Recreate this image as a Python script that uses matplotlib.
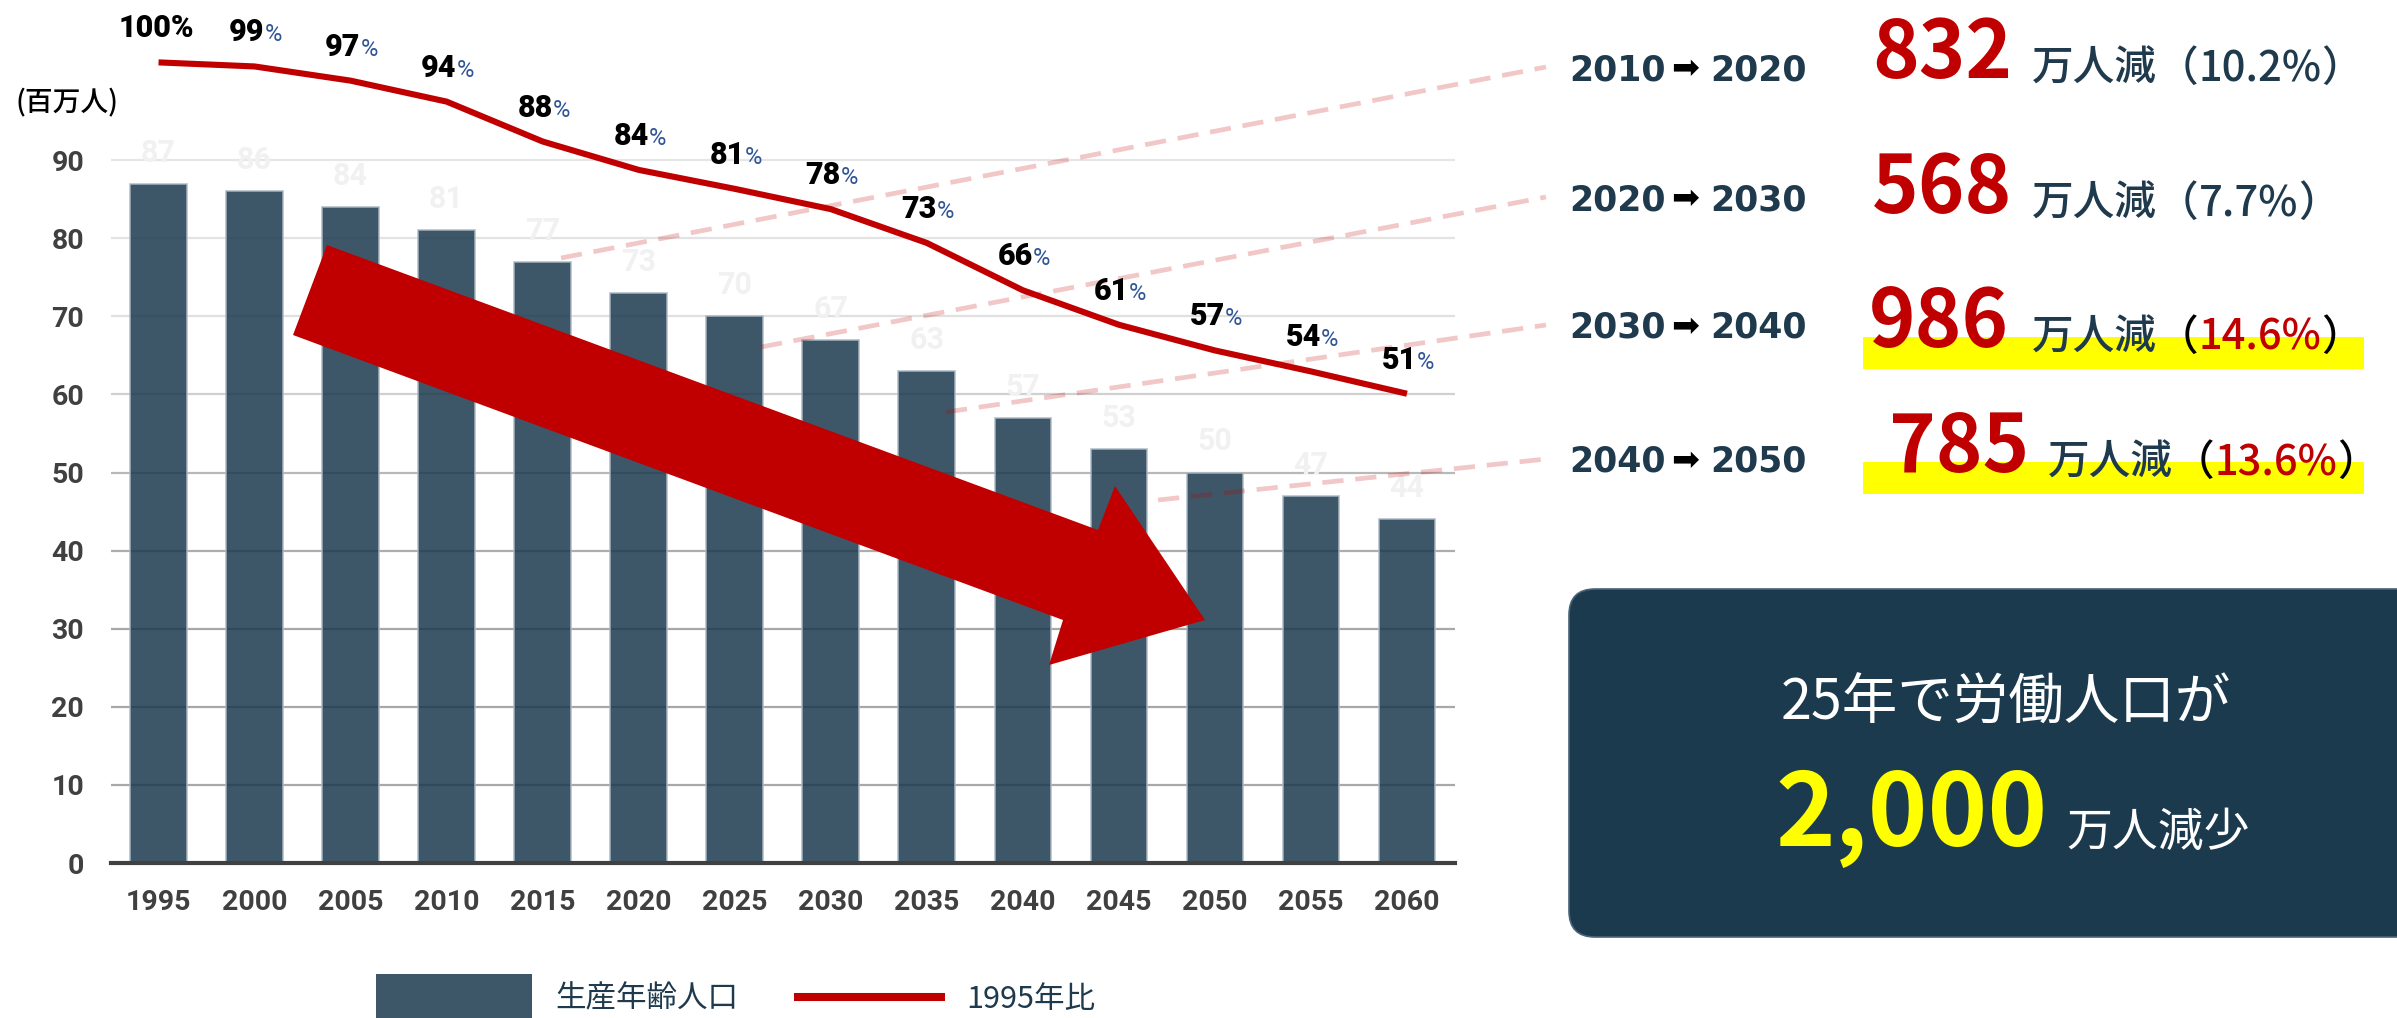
import matplotlib
matplotlib.use("Agg")
import matplotlib.pyplot as plt
from matplotlib.patches import Polygon, Rectangle, FancyBboxPatch

plt.rcParams['font.family'] = ['Noto Sans CJK JP', 'DejaVu Sans']

# data
years = [1995, 2000, 2005, 2010, 2015, 2020, 2025, 2030, 2035, 2040, 2045, 2050, 2055, 2060]
population = [87, 86, 84, 81, 77, 73, 70, 67, 63, 57, 53, 50, 47, 44]
ratio = [100, 99.4, 97.3, 94.2, 88.3, 84.1, 81.3, 78.3, 73.3, 66.3, 61.2, 57.4, 54.3, 51.0]
ratio_labels = [100, 99, 97, 94, 88, 84, 81, 78, 73, 66, 61, 57, 54, 51]
y_ticks = [0, 10, 20, 30, 40, 50, 60, 70, 80, 90]

range_from = [2010, 2020, 2030, 2040]
range_to = [2020, 2030, 2040, 2050]
decrease = [832, 568, 986, 785]
decrease_pct = [10.2, 7.7, 14.6, 13.6]
highlight = [False, False, True, True]

total_years = 25
total_decrease = "2,000"

# colours
BAR = '#1e3b4f'
RED = '#c00000'
NAVY = '#1f3a4d'
GREY = '#404040'

W, H = 2397, 1018
fig = plt.figure(figsize=(W / 100, H / 100), dpi=100)
fig.patch.set_facecolor('white')

ax = fig.add_axes([110.5 / W, 155 / H, (1455 - 110.5) / W, 781 / H])
x = list(range(len(years)))

ax.bar(x, population, width=0.59, color=BAR, alpha=0.86,
       edgecolor='#a9b8c4', linewidth=1.2, zorder=2)
for i, v in enumerate(population):
    ax.annotate(str(v), (i, v), xytext=(0, 31), textcoords='offset pixels',
                ha='center', va='center', color='#f1f1f1', fontsize=22,
                fontweight='bold', family=['Roboto', 'DejaVu Sans'])

# gridlines get darker toward the bottom
grid_cols = {10: '#a8a8a8', 20: '#a8a8a8', 30: '#a8a8a8', 40: '#adadad',
             50: '#b8b8b8', 60: '#d0d0d0', 70: '#e0e0e0', 80: '#e3e3e3', 90: '#e6e6e6'}
for t in y_ticks[1:]:
    ax.axhline(t, color=grid_cols[t], lw=1.6, zorder=1)

ax.set_xlim(-0.5, len(years) - 0.5)
ax.set_ylim(0, 100)
ax.set_yticks(y_ticks)
ax.set_xticks(x)
ax.set_xticklabels([str(y) for y in years])
for lab in ax.get_xticklabels() + ax.get_yticklabels():
    lab.set_fontfamily(['Roboto', 'DejaVu Sans'])
    lab.set_fontweight('bold')
    lab.set_fontsize(20.5)
    lab.set_color(GREY)
ax.tick_params(axis='both', length=0)
ax.tick_params(axis='y', pad=19)
ax.tick_params(axis='x', pad=19)
for s in ['top', 'right', 'left']:
    ax.spines[s].set_visible(False)
ax.spines['bottom'].set_color(GREY)
ax.spines['bottom'].set_linewidth(3)
ax.spines['bottom'].set_zorder(3)

# 1995 ratio line on a twin axis
ax2 = ax.twinx()
ax2.set_zorder(1)
ax2.set_ylim(-18.4, 97.1)
ax2.axis('off')
ax2.plot(x, ratio, color=RED, lw=4.4, clip_on=False, solid_capstyle='butt')
for i, (v, lbl) in enumerate(zip(ratio, ratio_labels)):
    if i == 0:
        ax2.annotate(f"{lbl}%", (i, v), xytext=(-2, 25), textcoords='offset pixels',
                     ha='center', va='baseline', fontsize=22, fontweight='heavy',
                     family=['Roboto', 'DejaVu Sans'], annotation_clip=False)
    else:
        ax2.annotate(str(lbl), (i, v), xytext=(10, 25), textcoords='offset pixels',
                     ha='right', va='baseline', fontsize=22, fontweight='heavy',
                     family=['Roboto', 'DejaVu Sans'], annotation_clip=False)
        ax2.annotate('%', (i, v), xytext=(10, 25), textcoords='offset pixels',
                     ha='left', va='baseline', fontsize=17, color='#2f5597',
                     family=['Roboto', 'DejaVu Sans'], annotation_clip=False)

# overlay in pixel coordinates for annotations
ov = fig.add_axes([0, 0, 1, 1], zorder=0.5)
ov.set_xlim(0, W)
ov.set_ylim(H, 0)
ov.axis('off')
ov.patch.set_visible(False)

ov.text(16, 103, '(百万人)', ha='left', va='center', fontsize=20,
        fontweight='medium', color='black')

# big downward arrow
arrow = Polygon([(327, 245), (1098, 530), (1115, 486), (1205, 620),
                 (1049, 665), (1063, 620), (293, 335)],
                closed=True, facecolor=RED, edgecolor='none', zorder=2)
ov.add_patch(arrow)

# dashed connectors to the right-hand figures
starts = [(561, 258), (761, 347), (946, 412), (1158, 500)]
ends = [(1546, 67), (1546, 197), (1546, 325), (1546, 459)]
for (x0, y0), (x1, y1) in zip(starts, ends):
    ov.plot([x0, x1], [y0, y1], color=RED, alpha=0.22, lw=3.4,
            linestyle=(0, (4.5, 2.5)), zorder=1)

# right-hand figures
year_base = [80, 210, 338, 472]
num_base = [78, 213, 347, 472]
num_x = [1872, 1872, 1869, 1889]
unit_x = [2032, 2032, 2032, 2048]
for k in range(4):
    ov.text(1569, year_base[k], str(range_from[k]), ha='left', va='baseline',
            fontsize=25, fontweight='bold', color=NAVY, family='DejaVu Sans')
    ov.text(1685, year_base[k] - 11, '\u27a1', ha='center', va='center',
            fontsize=24, color='black', family='DejaVu Sans')
    ov.text(1710, year_base[k], str(range_to[k]), ha='left', va='baseline',
            fontsize=25, fontweight='bold', color=NAVY, family='DejaVu Sans')
    if highlight[k]:
        ov.add_patch(Rectangle((1863, num_base[k] - 10), 501, 32,
                               facecolor='#ffff00', edgecolor='none', zorder=1))
    ov.text(num_x[k], num_base[k], str(decrease[k]), ha='left', va='baseline',
            fontsize=57, fontweight='bold', color=RED, zorder=3)
    paren_col = 'black' if highlight[k] else NAVY
    pct_col = RED if highlight[k] else NAVY
    t = ov.text(unit_x[k], num_base[k] + 3, '万人減', ha='left', va='baseline',
                fontsize=30, fontweight='medium', color=NAVY, zorder=3)
    for seg, col in [('（', paren_col), (f'{decrease_pct[k]}%', pct_col), ('）', paren_col)]:
        t = ov.annotate(seg, xy=(1, 0), xycoords=t, ha='left', va='bottom',
                        fontsize=30, fontweight='medium', color=col, zorder=3)

# summary box
box = FancyBboxPatch((1569, 589), 900, 348, boxstyle='round,pad=0,rounding_size=26',
                     facecolor='#1c3a4e', edgecolor='#4a6478', lw=1.2, zorder=1)
ov.add_patch(box)
ov.text(2006, 704, f'{total_years}年で労働人口が', ha='center', va='center',
        fontsize=40, color='white', zorder=2)
ov.text(1775, 846, total_decrease, ha='left', va='baseline', fontsize=73,
        fontweight='bold', color='#ffff00', zorder=2)
ov.text(2066, 846, '万人減少', ha='left', va='baseline', fontsize=33,
        color='white', zorder=2)

# legend
ov.add_patch(Rectangle((376, 974), 156, 60, facecolor=BAR, alpha=0.86,
                       edgecolor='none'))
ov.text(555, 999, '生産年齢人口', ha='left', va='center', fontsize=22, color=NAVY)
ov.plot([794, 945], [997, 997], color=RED, lw=5.8, solid_capstyle='butt')
ov.text(966, 999, '1995年比', ha='left', va='center', fontsize=22, color=NAVY)

fig.savefig('out.png', dpi=100)
